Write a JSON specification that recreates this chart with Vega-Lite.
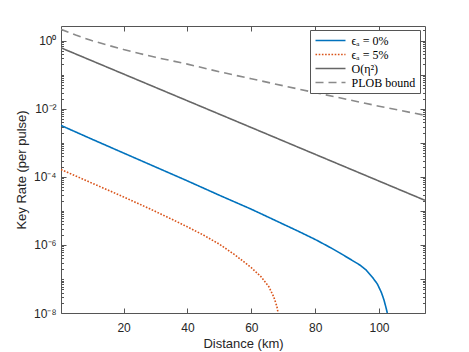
{
  "$schema": "https://vega.github.io/schema/vega-lite/v6.json",
  "width": 364,
  "height": 287,
  "autosize": {"type": "none"},
  "padding": {"left": 61, "top": 26, "right": 44, "bottom": 39},
  "background": "white",
  "config": {
    "view": {"stroke": "#555555", "strokeWidth": 1},
    "axis": {
      "domain": false, "grid": false, "tickColor": "#555555", "tickWidth": 1,
      "labelFont": "Liberation Sans", "labelFontSize": 12, "labelColor": "#262626",
      "titleFont": "Liberation Sans", "titleFontSize": 13, "titleFontWeight": "normal", "titleColor": "#262626"
    },
    "legend": {
      "orient": "none", "legendX": 249, "legendY": 4,
      "strokeColor": "#555555", "fillColor": "white", "padding": 4.5,
      "symbolType": "M-1,0H5", "symbolSize": 100, "symbolStrokeWidth": 1.6,
      "labelFont": "Liberation Serif", "labelFontSize": 12, "labelColor": "#000000",
      "labelOffset": 25, "rowPadding": 2, "labelLimit": 200
    }
  },
  "data": {"values": [
    {"s": "ϵₐ = 0%", "d": 0.4, "k": 0.003236},
    {"s": "ϵₐ = 0%", "d": 10, "k": 0.001288},
    {"s": "ϵₐ = 0%", "d": 20, "k": 5.01e-4},
    {"s": "ϵₐ = 0%", "d": 30, "k": 1.95e-4},
    {"s": "ϵₐ = 0%", "d": 40, "k": 7.59e-5},
    {"s": "ϵₐ = 0%", "d": 50, "k": 2.88e-5},
    {"s": "ϵₐ = 0%", "d": 60, "k": 1.12e-5},
    {"s": "ϵₐ = 0%", "d": 65, "k": 6.76e-6},
    {"s": "ϵₐ = 0%", "d": 70, "k": 4.07e-6},
    {"s": "ϵₐ = 0%", "d": 75, "k": 2.45e-6},
    {"s": "ϵₐ = 0%", "d": 80, "k": 1.45e-6},
    {"s": "ϵₐ = 0%", "d": 85, "k": 8.13e-7},
    {"s": "ϵₐ = 0%", "d": 88, "k": 5.6e-7},
    {"s": "ϵₐ = 0%", "d": 91, "k": 3.8e-7},
    {"s": "ϵₐ = 0%", "d": 94, "k": 2.57e-7},
    {"s": "ϵₐ = 0%", "d": 96, "k": 1.82e-7},
    {"s": "ϵₐ = 0%", "d": 98, "k": 1.10e-7},
    {"s": "ϵₐ = 0%", "d": 99.5, "k": 7.08e-8},
    {"s": "ϵₐ = 0%", "d": 100.75, "k": 3.98e-8},
    {"s": "ϵₐ = 0%", "d": 101.5, "k": 2.51e-8},
    {"s": "ϵₐ = 0%", "d": 102.1, "k": 1.55e-8},
    {"s": "ϵₐ = 0%", "d": 102.6, "k": 1e-8},
    {"s": "ϵₐ = 5%", "d": 0.4, "k": 1.64e-4},
    {"s": "ϵₐ = 5%", "d": 10, "k": 6.61e-5},
    {"s": "ϵₐ = 5%", "d": 20, "k": 2.57e-5},
    {"s": "ϵₐ = 5%", "d": 28, "k": 1.175e-5},
    {"s": "ϵₐ = 5%", "d": 35, "k": 5.75e-6},
    {"s": "ϵₐ = 5%", "d": 40, "k": 3.39e-6},
    {"s": "ϵₐ = 5%", "d": 45, "k": 1.95e-6},
    {"s": "ϵₐ = 5%", "d": 50, "k": 1.05e-6},
    {"s": "ϵₐ = 5%", "d": 55, "k": 5.01e-7},
    {"s": "ϵₐ = 5%", "d": 60, "k": 2.14e-7},
    {"s": "ϵₐ = 5%", "d": 63, "k": 1.175e-7},
    {"s": "ϵₐ = 5%", "d": 65.5, "k": 5.89e-8},
    {"s": "ϵₐ = 5%", "d": 67, "k": 3.02e-8},
    {"s": "ϵₐ = 5%", "d": 68, "k": 1.58e-8},
    {"s": "ϵₐ = 5%", "d": 68.4, "k": 1e-8},
    {"s": "O(η²)", "d": 0.4, "k": 0.617},
    {"s": "O(η²)", "d": 40, "k": 0.01714},
    {"s": "O(η²)", "d": 80, "k": 4.59e-4},
    {"s": "O(η²)", "d": 114.4, "k": 2.04e-5},
    {"s": "PLOB bound", "d": 0.4, "k": 2.15},
    {"s": "PLOB bound", "d": 5, "k": 1.46},
    {"s": "PLOB bound", "d": 10, "k": 1.01},
    {"s": "PLOB bound", "d": 15, "k": 0.74},
    {"s": "PLOB bound", "d": 20, "k": 0.55},
    {"s": "PLOB bound", "d": 25, "k": 0.42},
    {"s": "PLOB bound", "d": 30, "k": 0.325},
    {"s": "PLOB bound", "d": 40, "k": 0.205},
    {"s": "PLOB bound", "d": 50, "k": 0.122},
    {"s": "PLOB bound", "d": 60, "k": 0.076},
    {"s": "PLOB bound", "d": 70, "k": 0.0475},
    {"s": "PLOB bound", "d": 80, "k": 0.0298},
    {"s": "PLOB bound", "d": 90, "k": 0.0188},
    {"s": "PLOB bound", "d": 100, "k": 0.0119},
    {"s": "PLOB bound", "d": 114.4, "k": 0.0064}
  ]},
  "resolve": {"axis": {"x": "independent", "y": "independent"}},
  "layer": [
    {
      "mark": {"type": "line", "clip": true, "strokeWidth": 1.6},
      "encoding": {
        "x": {"field": "d", "type": "quantitative",
          "scale": {"domain": [0.4, 114.4], "nice": false, "zero": false},
          "axis": {"orient": "bottom", "values": [20, 40, 60, 80, 100], "tickSize": -5, "labelPadding": 14, "title": "Distance (km)", "titlePadding": 4}},
        "y": {"field": "k", "type": "quantitative",
          "scale": {"type": "log", "domain": [1e-8, 2.7], "nice": false},
          "axis": {"orient": "left", "values": [1e-8, 1e-6, 1e-4, 0.01, 1], "tickSize": -5, "labelPadding": 10,
            "labelExpr": "'10' + replace(replace(replace(replace(replace(replace(replace(toString(round(log(datum.value)/LN10)),'-','⁻'),'0','⁰'),'2','²'),'4','⁴'),'6','⁶'),'8','⁸'),'1','¹')",
            "title": "Key Rate (per pulse)", "titlePadding": 5}},
        "color": {"field": "s", "type": "nominal",
          "scale": {"domain": ["ϵₐ = 0%", "ϵₐ = 5%", "O(η²)", "PLOB bound"], "range": ["#0072BD", "#D95319", "#666666", "#8a8a8a"]},
          "legend": {"title": null}},
        "strokeDash": {"field": "s", "type": "nominal",
          "scale": {"domain": ["ϵₐ = 0%", "ϵₐ = 5%", "O(η²)", "PLOB bound"], "range": [[1, 0], [1.6, 1.6], [1, 0], [8, 5]]},
          "legend": {"title": null}}
      }
    },
    {
      "mark": {"type": "line", "opacity": 0},
      "encoding": {
        "x": {"field": "d", "type": "quantitative",
          "axis": {"orient": "top", "values": [20, 40, 60, 80, 100], "tickSize": -5, "labels": false, "title": null}},
        "y": {"field": "k", "type": "quantitative",
          "axis": {"orient": "right", "values": [1e-8, 1e-7, 1e-6, 1e-5, 1e-4, 1e-3, 0.01, 0.1, 1], "tickSize": -5, "labels": false, "title": null}}
      }
    },
    {
      "mark": {"type": "line", "opacity": 0},
      "encoding": {
        "x": {"field": "d", "type": "quantitative", "axis": null},
        "y": {"field": "k", "type": "quantitative",
          "axis": {"orient": "left", "labels": false, "title": null, "tickSize": -2.5,
            "values": [2e-8,3e-8,4e-8,5e-8,6e-8,7e-8,8e-8,9e-8,2e-7,3e-7,4e-7,5e-7,6e-7,7e-7,8e-7,9e-7,2e-6,3e-6,4e-6,5e-6,6e-6,7e-6,8e-6,9e-6,2e-5,3e-5,4e-5,5e-5,6e-5,7e-5,8e-5,9e-5,2e-4,3e-4,4e-4,5e-4,6e-4,7e-4,8e-4,9e-4,0.002,0.003,0.004,0.005,0.006,0.007,0.008,0.009,0.02,0.03,0.04,0.05,0.06,0.07,0.08,0.09,0.2,0.3,0.4,0.5,0.6,0.7,0.8,0.9,2,1e-7,1e-5,1e-3,0.1]}}
      }
    },
    {
      "mark": {"type": "line", "opacity": 0},
      "encoding": {
        "x": {"field": "d", "type": "quantitative", "axis": null},
        "y": {"field": "k", "type": "quantitative",
          "axis": {"orient": "right", "labels": false, "title": null, "tickSize": -2.5,
            "values": [2e-8,3e-8,4e-8,5e-8,6e-8,7e-8,8e-8,9e-8,2e-7,3e-7,4e-7,5e-7,6e-7,7e-7,8e-7,9e-7,2e-6,3e-6,4e-6,5e-6,6e-6,7e-6,8e-6,9e-6,2e-5,3e-5,4e-5,5e-5,6e-5,7e-5,8e-5,9e-5,2e-4,3e-4,4e-4,5e-4,6e-4,7e-4,8e-4,9e-4,0.002,0.003,0.004,0.005,0.006,0.007,0.008,0.009,0.02,0.03,0.04,0.05,0.06,0.07,0.08,0.09,0.2,0.3,0.4,0.5,0.6,0.7,0.8,0.9,2]}}
      }
    }
  ]
}
